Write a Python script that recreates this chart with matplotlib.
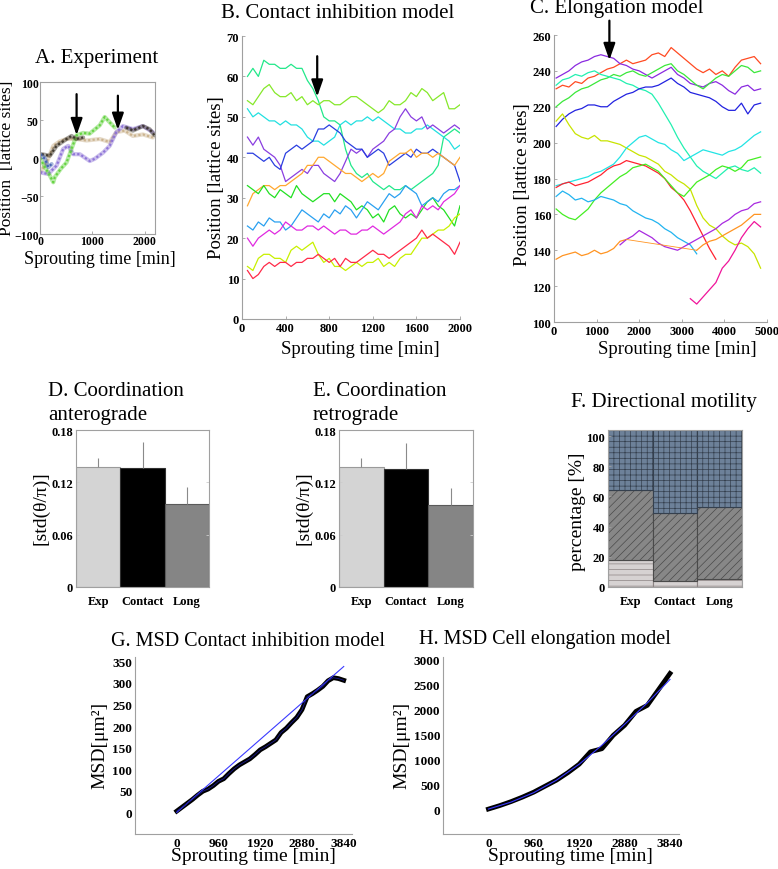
import numpy as np
import matplotlib
matplotlib.use('Agg')
import matplotlib.pyplot as plt

plt.rcParams['font.family'] = ['Liberation Serif', 'DejaVu Serif']
plt.rcParams['hatch.linewidth'] = 0.5

W, H = 778, 870

# ---------------- A. Experiment ----------------
a_purple_t = [0, 159, 317, 444, 540, 635, 762, 952, 1048, 1206, 1333, 1460, 1587, 1778, 1968, 2159]
a_purple_y = [-19, -21, -10, 12, 16, 5, 5, -4, -1, 7, 16, 34, 42, 38, 42, 34]
a_green_t = [0, 95, 180, 254, 285, 400, 508, 603, 700, 825, 950, 1143, 1238, 1333, 1430]
a_green_y = [0, -12, -22, -32, -25, -14, -6, 12, 30, 33, 32, 43, 54, 47, 40]
a_tan_t = [0, 127, 254, 380, 508, 700, 890, 1143, 1333, 1460, 1620, 1778, 1968, 2159]
a_tan_y = [-19, -6, 16, 22, 25, 25, 23, 25, 21, 34, 36, 29, 31, 27]
a_dark_t = [32, 190, 317, 508, 603, 700, 825, 1430, 1650, 1778, 1968, 2095, 2190]
a_dark_y = [5, 3, 16, 25, 29, 25, 27, np.nan, 40, 36, 42, 38, 30]
a_blue_t = [0, 95, 159, 222]
a_blue_y = [5, -1, -12, -8]

# ---------------- B. Contact inhibition model ----------------
b_t = np.arange(50, 2001, 50)
b_traces = {
    '#22e88a': [60, 62, 60, 64, 63, 63, 62, 62, 63, 62, 62, 59, 57, 54, 50, 49, 49, 48, 42, 38,
                36, 35, 36, 34, 33, 32, 33, 32, 32, 33, 32, 33, 34, 35, 36, 38, 45, 46, 47, 46],
    '#86e82a': [54, 53, 55, 57, 58, 56, 55, 55, 56, 54, 55, 53, 54, 53, 54, 54, 53, 53, 54, 55,
                55, 54, 53, 52, 51, 52, 54, 53, 53, 54, 56, 55, 57, 56, 54, 55, 56, 52, 52, 53],
    '#22e0e0': [52, 50, 51, 50, 49, 49, 48, 49, 48, 48, 47, 45, 44, 44, 43, 44, 45, 48, 49, 48,
                49, 49, 50, 49, 50, 49, 48, 47, 47, 46, 46, 47, 47, 48, 47, 46, 45, 44, 42, 43],
    '#8a3ee0': [45, 43, 45, 42, 41, 40, 38, 34, 35, 36, 37, 36, 38, 38, 36, 35, 34, 36, 39, 42,
                41, 42, 40, 42, 43, 44, 46, 47, 50, 52, 50, 49, 50, 47, 48, 47, 46, 47, 48, 47],
    '#2a3ee0': [41, 41, 40, 39, 40, 38, 37, 41, 42, 43, 42, 43, 44, 47, 47, 48, 47, 46, 44, 43,
                42, 42, 40, 41, 42, 41, 38, 39, 40, 41, 40, 42, 41, 41, 42, 41, 40, 39, 38, 34],
    '#ffa830': [28, 31, 32, 33, 33, 32, 33, 33, 34, 35, 36, 38, 38, 40, 40, 39, 38, 37, 36, 36,
                35, 34, 35, 36, 35, 36, 39, 40, 41, 41, 42, 40, 41, 41, 40, 41, 40, 39, 38, 40],
    '#22e022': [33, 32, 31, 33, 31, 30, 32, 31, 30, 33, 31, 30, 29, 30, 31, 31, 29, 31, 30, 29,
                27, 28, 27, 25, 26, 24, 27, 28, 26, 25, 26, 25, 27, 29, 30, 28, 27, 25, 23, 28],
    '#2aa0f0': [23, 22, 24, 23, 25, 24, 24, 22, 23, 25, 27, 26, 25, 24, 26, 25, 27, 26, 28, 27,
                25, 27, 29, 28, 27, 29, 31, 30, 31, 33, 32, 31, 28, 29, 30, 29, 31, 32, 32, 33],
    '#e02ae0': [20, 18, 20, 21, 22, 21, 22, 24, 23, 22, 22, 23, 23, 22, 23, 22, 21, 22, 22, 21,
                21, 22, 22, 23, 22, 21, 22, 23, 24, 26, 27, 25, 28, 27, 28, 27, 29, 30, 31, 33],
    '#c8f000': [13, 12, 15, 16, 16, 15, 15, 14, 17, 18, 17, 18, 19, 16, 14, 15, 13, 13, 12, 13,
                14, 13, 14, 14, 15, 13, 14, 13, 15, 16, 16, 18, 20, 20, 21, 22, 22, 23, 25, 26],
    '#ff2a48': [12, 10, 11, 13, 14, 13, 14, 14, 13, 14, 14, 15, 15, 16, 15, 14, 15, 13, 15, 14,
                14, 15, 16, 17, 16, 16, 15, 16, 17, 18, 19, 20, 22, 20, 21, 20, 19, 18, 16, 19],
}

# ---------------- C. Elongation model ----------------
n = np.nan
c_t = np.arange(50, 4851, 150)
c_traces = {
    '#ff4a22': [230, 232, 231, 234, 233, 236, 237, 239, 241, 242, 244, 246, 244, 245, 246, 249, 250,
                248, 253, 250, 247, 244, 241, 239, 241, 238, 240, 237, 242, 246, 247, 248, 244],
    '#8a2ae0': [236, 238, 240, 243, 245, 246, 248, 249, 248, 247, 244, 243, 241, 240, 238, 236, 238,
                240, 242, 238, 236, 233, 232, 231, 233, 234, 232, 229, 227, 231, 232, 229, 230],
    '#3ae83a': [220, 223, 225, 228, 230, 231, 233, 235, 236, 238, 237, 239, 240, 238, 237, 239, 241,
                243, 244, 240, 238, 235, 232, 230, 233, 236, 238, 237, 240, 243, 242, 239, 240],
    '#22f0b0': [232, 235, 236, 238, 237, 239, 240, 238, 237, 236, 235, 233, 232, 230, 229, 227, 222,
                216, 210, 203, 197, 192, 187, 184, 182, 180, 183, 186, 187, 185, 184, 186, 183],
    '#2222e0': [209, 213, 216, 218, 219, 221, 221, 220, 220, 223, 225, 227, 228, 230, 231, 231, 232,
                234, 236, 233, 231, 228, 227, 226, 225, 223, 220, 218, 218, 222, 216, 221, 222],
    '#c8e400': [212, 216, 210, 205, 203, 202, 204, 201, 201, 200, 199, 197, 195, 193, 192, 190, 188,
                184, 182, 179, 177, 174, 165, 158, 154, 152, 148, 145, 143, 144, 142, 138, 130],
    '#22e4e4': [176, 177, 178, 179, 180, 181, 183, 184, 186, 188, 192, 197, 200, 203, 204, 202, 200,
                199, 196, 194, 190, 192, 194, 196, 195, 194, 193, 195, 196, 198, 201, 204, 206],
    '#ff2230': [175, 177, 178, 176, 177, 178, 180, 182, 185, 187, 188, 190, 189, 188, 187, 185, 183,
                180, 175, 172, 168, 162, 155, 148, 141, 135, n, n, n, n, n, n, n],
    '#44ee22': [163, 160, 158, 157, 160, 163, 168, 172, 175, 178, 181, 183, 186, 187, 188, 186, 184,
                180, 176, 172, 170, 174, 178, 180, 182, 185, 187, 186, 184, 186, 190, 191, 192],
    '#22b4f0': [170, 173, 171, 168, 169, 167, 168, 170, 169, 168, 166, 165, 162, 160, 158, 157, 155,
                152, 150, 147, 145, 143, 138, n, n, n, n, n, n, n, n, n, n],
    '#ff9422': [135, 137, 138, 139, 137, 138, 140, 138, 139, 141, 145, 146, n, n, n, n, n,
                n, n, n, n, n, 140, 143, 145, 146, 148, 150, 152, 154, 157, 160, 160],
    '#a82ae0': [n, n, n, n, n, n, n, n, n, n, 143, 146, 148, 151, 149, 147, 144,
                142, 141, 140, 142, 144, 146, 148, 150, 152, 155, 157, 160, 162, 163, 166, 167],
    '#f0149a': [n, n, n, n, n, n, n, n, n, n, n, n, n, n, n, n, n,
                n, n, n, n, 113, 110, 114, 118, 122, 130, 134, 140, 147, 152, 156, 153],
}

# ---------------- D/E. Coordination ----------------
bar_names = ['Exp', 'Contact', 'Long']
d_vals = [0.138, 0.136, 0.095]
d_err = [0.010, 0.030, 0.020]
e_vals = [0.138, 0.135, 0.094]
e_err = [0.010, 0.030, 0.019]

# ---------------- F. Directional motility ----------------
f_low = [18, 4, 5]
f_mid = [46, 45, 48]
f_top = [40, 55, 51]

# ---------------- G/H. MSD ----------------
g_t = np.arange(0, 3841, 120)
g_msd = [3, 12, 21, 30, 40, 49, 54, 62, 72, 78, 90, 101, 110, 117, 124, 134, 145,
         152, 160, 168, 185, 195, 208, 220, 238, 268, 275, 283, 292, 305, 312, 310, 306]
g_fit_t = [0, 3840]
g_fit = [0, 338]
h_t = np.arange(0, 3841, 240)
h_msd = [0, 70, 150, 240, 340, 460, 580, 730, 900, 1150, 1210, 1480, 1680, 1960, 2080, 2400, 2720]
h_fit_t = [0, 480, 960, 1440, 1920, 2400, 2880, 3360, 3840]
h_fit = [0, 140, 330, 580, 900, 1280, 1700, 2130, 2600]


def px_axes(fig, l, t, r, b):
    return fig.add_axes([l / W, 1 - b / H, (r - l) / W, (b - t) / H])


def px_text(fig, x, y, s, **kw):
    fig.text(x / W, 1 - y / H, s, **kw)


def style(ax, size=9, box=True):
    for side in ['left', 'bottom', 'top', 'right']:
        ax.spines[side].set_color('#a0a0a0')
        ax.spines[side].set_linewidth(0.8)
        if not box and side in ('top', 'right'):
            ax.spines[side].set_visible(False)
    ax.tick_params(direction='in', length=2.5, width=0.6, color='#a0a0a0',
                   labelsize=size, pad=2)
    for lbl in ax.get_xticklabels() + ax.get_yticklabels():
        lbl.set_fontweight('bold')


def arrow(ax, x, y0, y1):
    ax.annotate('', xy=(x, y1), xytext=(x, y0), annotation_clip=False,
                arrowprops=dict(arrowstyle='-|>,head_width=0.35,head_length=1.0',
                                color='black', lw=1.6, shrinkA=0, shrinkB=0))


fig = plt.figure(figsize=(W / 100, H / 100), dpi=100)

# A
ax = px_axes(fig, 40, 83, 155, 235)
for t, y, c in [(a_tan_t, a_tan_y, '#c9b08a'), (a_purple_t, a_purple_y, '#8a6fd6'),
                (a_green_t, a_green_y, '#5fd13a'), (a_dark_t, a_dark_y, '#3a3328'),
                (a_blue_t, a_blue_y, '#3d5fb0')]:
    ax.plot(t, y, color=c, lw=3, alpha=0.45, solid_capstyle='round')
    ax.plot(t, y, color=c, lw=1.6, ls=(0, (1, 1)), alpha=0.9)
ax.set_xlim(0, 2200)
ax.set_ylim(-100, 100)
ax.set_xticks([0, 1000, 2000])
ax.set_yticks([-100, -50, 0, 50, 100])
style(ax, 8.5)
ax.tick_params(axis='x', pad=1)
ax.tick_params(axis='y', pad=1)
arrow(ax, 700, 84, 30)
arrow(ax, 1490, 82, 37)
px_text(fig, 97, 58, 'A. Experiment', fontsize=15, ha='center', va='center')
px_text(fig, 7, 158, 'Position  [lattice sites]', fontsize=12.5, rotation=90,
        ha='center', va='center')
px_text(fig, 100, 259, 'Sprouting time [min]', fontsize=13, ha='center', va='center')

# B
ax = px_axes(fig, 242, 37, 460, 320)
for c, y in b_traces.items():
    ax.plot(b_t, y, color=c, lw=0.9)
ax.set_xlim(0, 2000)
ax.set_ylim(0, 70)
ax.set_xticks(range(0, 2001, 400))
ax.set_yticks(range(0, 71, 10))
style(ax, 9, box=False)
arrow(ax, 690, 65, 55)
px_text(fig, 338, 13, 'B. Contact inhibition model', fontsize=15, ha='center', va='center')
px_text(fig, 216, 178, 'Position [lattice sites]', fontsize=13.5, rotation=90,
        ha='center', va='center')
px_text(fig, 360, 349, 'Sprouting time [min]', fontsize=13.5, ha='center', va='center')

# C
ax = px_axes(fig, 554, 36, 767, 323)
for c, y in c_traces.items():
    ax.plot(c_t, y, color=c, lw=0.9)
orange = c_traces['#ff9422']
ax.plot([c_t[11], c_t[22]], [orange[11], orange[22]], color='#ff9422', lw=0.6)
ax.set_xlim(0, 5000)
ax.set_ylim(100, 260)
ax.set_xticks(range(0, 5001, 1000))
ax.set_yticks(range(100, 261, 20))
style(ax, 9, box=False)
arrow(ax, 1300, 268, 246)
px_text(fig, 617, 9, 'C. Elongation model', fontsize=15, ha='center', va='center')
px_text(fig, 522, 185, 'Position [lattice sites]', fontsize=13.5, rotation=90,
        ha='center', va='center')
px_text(fig, 677, 350, 'Sprouting time [min]', fontsize=13.5, ha='center', va='center')

# D and E
bar_fc = ['#d4d4d4', '#000000', '#858585']
bar_ec = ['#9a9a9a', '#303030', '#5a5a5a']
for (l, r), vals, errs, title2, tx in [((76, 209), d_vals, d_err, 'anterograde', 48),
                                        ((339, 473), e_vals, e_err, 'retrograde', 313)]:
    ax = px_axes(fig, l, 431, r, 588)
    x = np.arange(1, 4)
    ax.bar(x, vals, width=1, color=bar_fc, edgecolor=bar_ec, lw=0.8)
    ax.vlines(x, vals, np.array(vals) + np.array(errs), color='#8a8a8a', lw=0.8)
    ax.set_xlim(0.5, 3.5)
    ax.set_ylim(0, 0.18)
    ax.set_yticks([0, 0.06, 0.12, 0.18])
    ax.set_yticklabels(['0', '0.06', '0.12', '0.18'])
    ax.set_xticks(x)
    ax.set_xticklabels(bar_names)
    style(ax, 9)
    ax.tick_params(axis='x', length=0, pad=6)
    ax.tick_params(axis='y', right=True, color='#cccccc')
    letter = 'D' if tx < 200 else 'E'
    px_text(fig, tx, 392, letter + '. Coordination', fontsize=15, ha='left', va='center')
    px_text(fig, tx, 416, title2, fontsize=15, ha='left', va='center')
    px_text(fig, l - 35, 508, '[std(θ/π)]', fontsize=14, rotation=90,
            ha='center', va='center')

# F
ax = px_axes(fig, 608, 431, 742, 588)
x = np.arange(1, 4)
ax.bar(x, f_low, width=1, color='#d6d2d2', edgecolor='#8c8484', hatch='---', lw=0.8)
ax.bar(x, f_mid, width=1, bottom=f_low, color='#878787', edgecolor='#4a4a4a',
       hatch='////', lw=0.8)
ax.bar(x, f_top, width=1, bottom=np.array(f_low) + np.array(f_mid), color='#6d8199',
       edgecolor='#35404e', hatch='+++', lw=0.8)
ax.set_xlim(0.5, 3.5)
ax.set_ylim(0, 104)
ax.set_yticks(range(0, 101, 20))
ax.set_xticks(x)
ax.set_xticklabels(bar_names)
style(ax, 9)
ax.tick_params(axis='x', length=0, pad=6)
px_text(fig, 664, 403, 'F. Directional motility', fontsize=15, ha='center', va='center')
px_text(fig, 577, 512, 'percentage [%]', fontsize=14, rotation=90, ha='center', va='center')

# G
ax = px_axes(fig, 135, 658, 352, 835)
ax.plot(g_t, g_msd, color='black', lw=3.4)
ax.plot(g_fit_t, g_fit, color='#3a3aff', lw=0.8)
ax.plot(g_t, g_msd, color='#1a1a8a', lw=0.6)
ax.set_xlim(-960, 4030)
ax.set_ylim(-50, 360)
ax.set_xticks([0, 960, 1920, 2880, 3840])
ax.set_yticks(range(0, 351, 50))
style(ax, 9.5, box=False)
ax.tick_params(length=0)
px_text(fig, 248, 642, 'G. MSD Contact inhibition model', fontsize=14.5, ha='center', va='center')
px_text(fig, 100, 745, 'MSD[μm²]', fontsize=14, rotation=90, ha='center', va='center')
px_text(fig, 253, 857, 'Sprouting time [min]', fontsize=14, ha='center', va='center')

# H
ax = px_axes(fig, 443, 658, 679, 835)
ax.plot(h_t, h_msd, color='black', lw=3.4)
ax.plot(h_fit_t, h_fit, color='#3a3aff', lw=0.8)
ax.set_xlim(-960, 4030)
ax.set_ylim(-500, 3050)
ax.set_xticks([0, 960, 1920, 2880, 3840])
ax.set_yticks(range(0, 3001, 500))
style(ax, 9.5, box=False)
ax.tick_params(length=0)
px_text(fig, 545, 640, 'H. MSD Cell elongation model', fontsize=14.5, ha='center', va='center')
px_text(fig, 402, 745, 'MSD[μm²]', fontsize=14, rotation=90, ha='center', va='center')
px_text(fig, 570, 857, 'Sprouting time [min]', fontsize=14, ha='center', va='center')

fig.savefig('out.png', dpi=100)
